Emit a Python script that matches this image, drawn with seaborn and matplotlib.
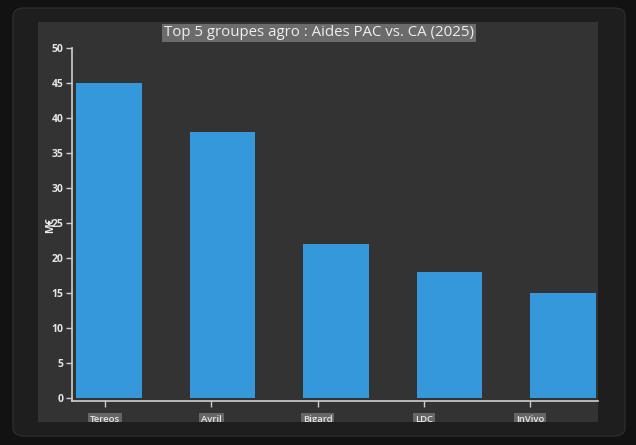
import numpy as np
import matplotlib
matplotlib.use("Agg")
import matplotlib.pyplot as plt
from matplotlib.patches import FancyBboxPatch, Rectangle
import seaborn as sns

# data
groupes = ["Tereos", "Avril", "Bigard", "LDC", "InVivo"]
aides_meur = [45, 38, 22, 18, 15]
y_ticks = [0, 5, 10, 15, 20, 25, 30, 35, 40, 45, 50]

W, H = 636, 445
fig = plt.figure(figsize=(W / 100, H / 100), dpi=100)
fig.patch.set_facecolor("#121212")

def fx(px):
    return px / W

def fy(py):
    return 1 - py / H

# card + inner panel (behind the axes)
card = FancyBboxPatch((fx(13), fy(436)), fx(612), 428 / H,
                      boxstyle="round,pad=0,rounding_size=0.018",
                      transform=fig.transFigure, facecolor="#1e1e1e",
                      edgecolor="#2c2c2c", linewidth=1, zorder=-2)
fig.patches.append(card)
panel = Rectangle((fx(38), fy(422)), fx(560), 400 / H,
                  transform=fig.transFigure, facecolor="#333333",
                  edgecolor="none", zorder=-1)
fig.patches.append(panel)

ax = fig.add_axes([fx(72), fy(401), fx(526), (401 - 48) / H])
ax.set_facecolor("none")

sns.barplot(x=groupes, y=aides_meur, color="#3498db", saturation=1,
            width=0.58, ax=ax, zorder=2)

ax.set_xlim(-0.326, 4.308)
ax.set_ylim(-0.43, 50)
ax.set_yticks(y_ticks)

# tick positions drift from the bar centres in the original
ax.set_xticks(np.arange(len(groupes)) * 0.936 - 0.035)
ax.set_xticklabels(groupes)

for s in ["top", "right"]:
    ax.spines[s].set_visible(False)
for s in ["left", "bottom"]:
    ax.spines[s].set_color("#d0d0d0")
    ax.spines[s].set_linewidth(1.2)
ax.spines["left"].set_bounds(-0.43, 50)

ax.tick_params(axis="both", colors="#d0d0d0", length=4, width=1,
               labelcolor="#e6e6e6")
ax.tick_params(axis="x", pad=6, labelsize=6.8)
ax.tick_params(axis="y", pad=2, labelsize=7.5)

for lbl in ax.get_yticklabels():
    lbl.set_fontfamily("Open Sans")
    lbl.set_fontweight("bold")
clip = Rectangle((fx(38), fy(422)), fx(560), 400 / H, transform=fig.transFigure)
for lbl in ax.get_xticklabels():
    lbl.set_fontfamily("Open Sans")
    lbl.set_fontweight("semibold")
    lbl.set_bbox(dict(facecolor="#666666", edgecolor="none", pad=1.5))
    lbl.set_clip_path(clip)
    lbl.set_clip_on(True)

ax.set_xlabel("")
ax.set_ylabel("")
fig.text(fx(51), fy(225), "M€", rotation=90, ha="center", va="center",
         fontsize=7.5, color="#eeeeee", family="Open Sans", fontweight="bold")

fig.text(fx(319), fy(33), "Top 5 groupes agro : Aides PAC vs. CA (2025)",
         ha="center", va="center", fontsize=10.8, color="#eeeeee",
         family="Open Sans",
         bbox=dict(facecolor="#6b6b6b", edgecolor="none", pad=1.2))

fig.savefig("out.png", dpi=100, facecolor=fig.get_facecolor())
